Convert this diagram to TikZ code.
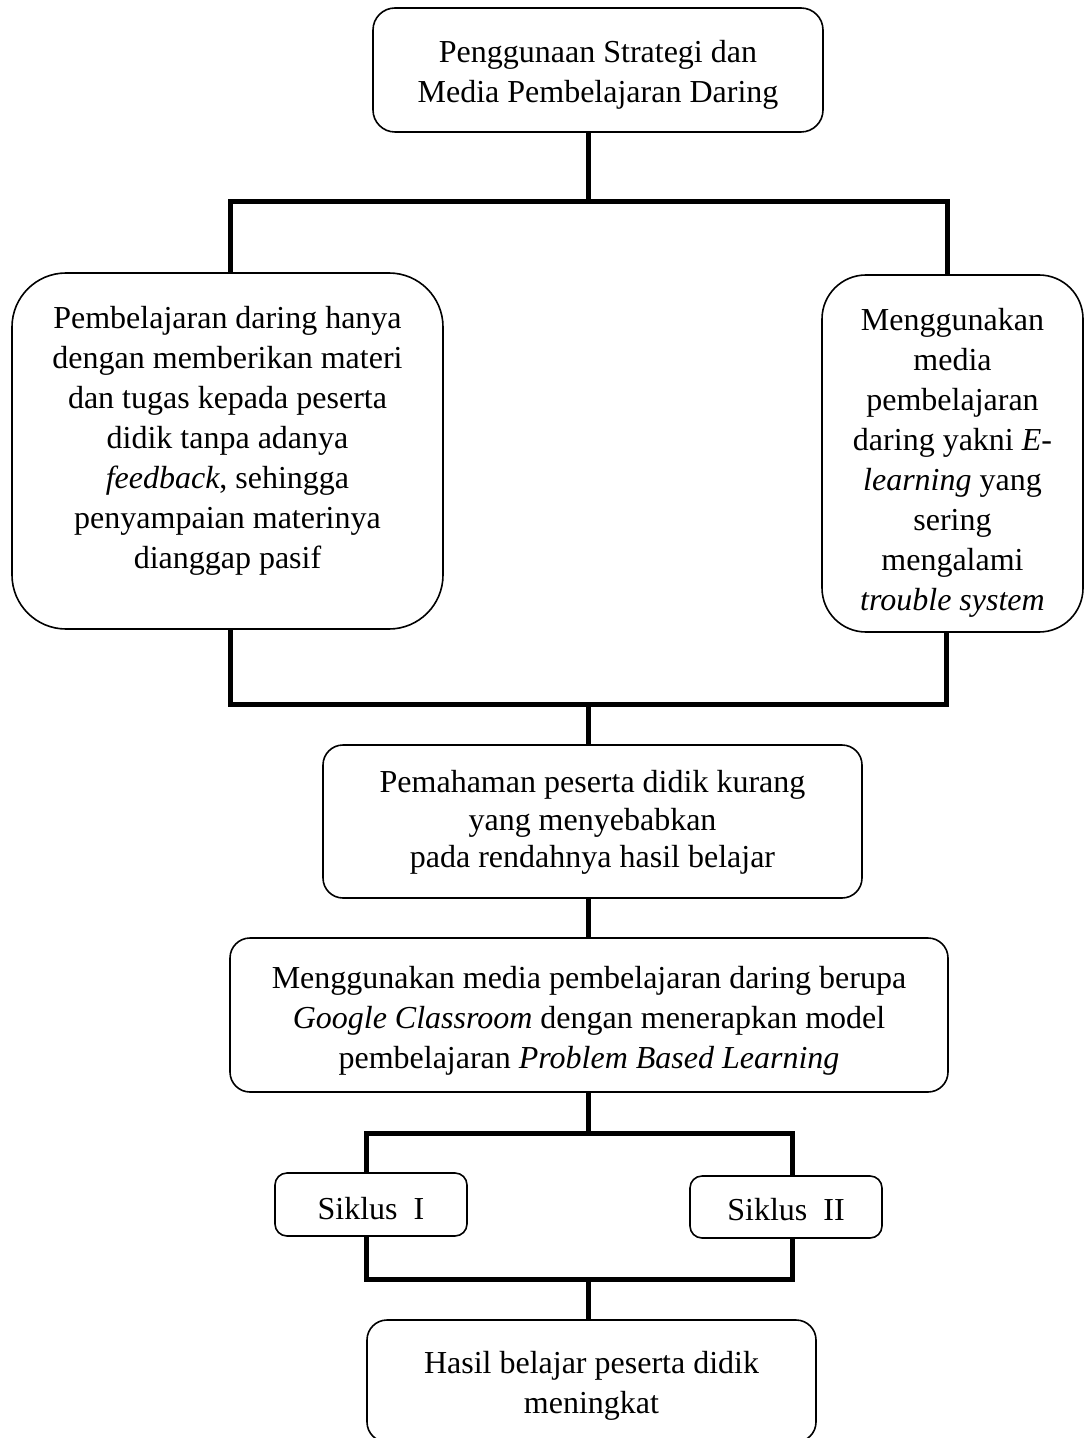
\documentclass[tikz,border=0pt]{standalone}
\usepackage{fontspec}
\setmainfont{Liberation Serif}
\newcommand\mystrutup[1]{\rule{0pt}{#1}}
\newcommand\mystrutdn[1]{\rule[-#1]{0pt}{#1}}
\begin{document}
\begin{tikzpicture}[x=0.5pt,y=-0.5pt,
  box/.style={draw, line width=0.8pt, align=center, inner sep=0pt,
    font=\fontsize{16}{20}\selectfont},
  conn/.style={line width=2.5pt, line join=miter}]
\useasboundingbox (0,0) rectangle (1086,1438);

\node[box, rounded corners=11pt, minimum width=225pt, minimum height=62pt] (top) at (598,70)
  {\mystrutup{16pt}Penggunaan Strategi dan\\Media Pembelajaran Daring};

\node[box, rounded corners=27pt, minimum width=215.5pt, minimum height=178pt] (left) at (227.5,451)
  {Pembelajaran daring hanya\\dengan memberikan materi\\dan tugas kepada peserta\\didik tanpa adanya\\\textit{feedback}, sehingga\\penyampaian materinya\\dianggap pasif\mystrutdn{13.5pt}};

\node[box, rounded corners=22pt, minimum width=130.5pt, minimum height=178.5pt] (right) at (952.5,453.5)
  {\mystrutup{20pt}Menggunakan\\media\\pembelajaran\\daring yakni \textit{E-}\\\textit{learning} yang\\sering\\mengalami\\\textit{trouble system}};

\node[box, rounded corners=10pt, minimum width=269.5pt, minimum height=76.5pt,
  font=\fontsize{16}{18.75}\selectfont] (mid) at (592.5,821.5)
  {\mystrutup{12pt}Pemahaman peserta didik kurang\\yang menyebabkan\\pada rendahnya hasil belajar};

\node[box, rounded corners=10pt, minimum width=359pt, minimum height=77pt] (box4) at (589,1015)
  {\mystrutup{17pt}Menggunakan media pembelajaran daring berupa\\\textit{Google Classroom} dengan menerapkan model\\pembelajaran \textit{Problem Based Learning}};

\node[box, rounded corners=6pt, minimum width=96pt, minimum height=31.5pt] (s1) at (371,1204.5)
  {\mystrutup{15pt}Siklus\ \ I};
\node[box, rounded corners=6pt, minimum width=96pt, minimum height=31pt] (s2) at (786,1207)
  {\mystrutup{14pt}Siklus\ \ II};

\node[box, rounded corners=10pt, minimum width=224.5pt, minimum height=61pt] (bot) at (591.5,1381)
  {\mystrutup{16pt}Hasil belajar peserta didik\\meningkat};

\coordinate (a1) at (588,202);
\coordinate (a2) at (230,202);
\coordinate (a3) at (947,202);
\coordinate (b1) at (588,704);
\coordinate (b2) at (230,704);
\coordinate (b3) at (946,704);
\coordinate (c1) at (588,1133);
\coordinate (c2) at (366,1133);
\coordinate (c3) at (792,1133);
\coordinate (d1) at (588,1279);
\coordinate (d2) at (366,1279);
\coordinate (d3) at (792,1279);

\draw[conn] (top.south -| a1) -- (a1);
\draw[conn] (left.north -| a2) -- (a2) -- (a3) -- (right.north -| a3);
\draw[conn] (left.south -| b2) -- (b2) -- (b3) -- (right.south -| b3);
\draw[conn] (b1) -- (mid.north -| b1);
\draw[conn] (mid.south -| b1) -- (box4.north -| b1);
\draw[conn] (box4.south -| c1) -- (c1);
\draw[conn] (s1.north -| c2) -- (c2) -- (c3) -- (s2.north -| c3);
\draw[conn] (s1.south -| d2) -- (d2) -- (d3) -- (s2.south -| d3);
\draw[conn] (d1) -- (bot.north -| d1);
\end{tikzpicture}
\end{document}
